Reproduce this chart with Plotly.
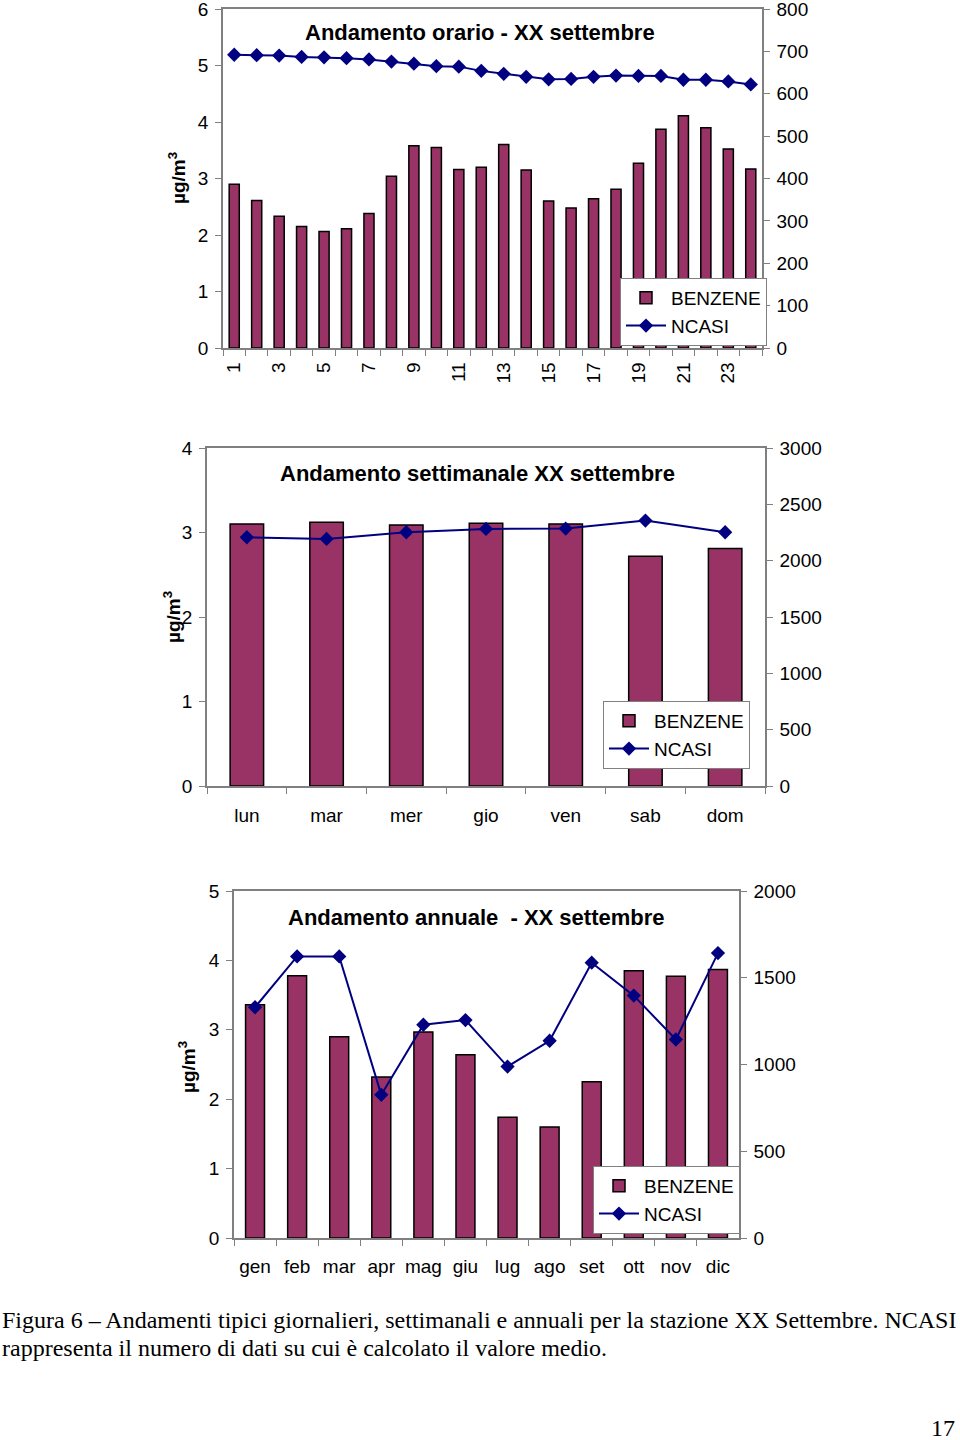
import plotly.graph_objects as go

# ---------------- data ----------------
hours = [str(h) for h in range(1, 25)]
hour_labels = [h if int(h) % 2 == 1 else "" for h in hours]
benz_hour = [2.90, 2.61, 2.33, 2.15, 2.06, 2.11, 2.38, 3.04, 3.58, 3.55, 3.16, 3.20,
             3.60, 3.15, 2.60, 2.48, 2.64, 2.81, 3.27, 3.87, 4.11, 3.90, 3.52, 3.17]
ncasi_hour = [692, 691, 690, 687, 686, 684, 681, 676, 671, 665, 664, 654,
              647, 640, 634, 635, 640, 643, 642, 642, 633, 633, 629, 622]

days = ["lun", "mar", "mer", "gio", "ven", "sab", "dom"]
benz_week = [3.10, 3.12, 3.09, 3.11, 3.10, 2.72, 2.81]
ncasi_week = [2208, 2193, 2252, 2282, 2285, 2356, 2252]

months = ["gen", "feb", "mar", "apr", "mag", "giu", "lug", "ago", "set", "ott", "nov", "dic"]
benz_year = [3.36, 3.78, 2.90, 2.32, 2.97, 2.64, 1.74, 1.60, 2.25, 3.85, 3.77, 3.87]
ncasi_year = [1330, 1623, 1623, 825, 1229, 1256, 988, 1137, 1587, 1397, 1144, 1642]

titles = ["Andamento orario - XX settembre",
          "Andamento settimanale XX settembre",
          "Andamento annuale  - XX settembre"]

# ---------------- style ----------------
W, H = 960, 1440
BAR = "#993366"
LINE = "#000080"
AX = "#808080"
FONT = "Liberation Sans"
FS = 19

def px_x(x):
    return x / W

def px_y(y):
    return 1 - y / H

fig = go.Figure()

charts = [
    dict(cats=hours, labels=hour_labels, b=benz_hour, n=ncasi_hour, ymax=6, dtick=1,
         y2max=800, y2dtick=100, x0=223, x1=762, top=9, bot=348, bw=0.45, angle=-90,
         xstand=5, legend=(620, 278), title=(480, 32), ytitle=(177, 178)),
    dict(cats=days, labels=days, b=benz_week, n=ncasi_week, ymax=4, dtick=1,
         y2max=3000, y2dtick=500, x0=207, x1=765, top=448, bot=786, bw=0.42, angle=0,
         xstand=11, legend=(603, 701), title=(477, 473), ytitle=(172, 617)),
    dict(cats=months, labels=months, b=benz_year, n=ncasi_year, ymax=5, dtick=1,
         y2max=2000, y2dtick=500, x0=234, x1=739, top=891, bot=1238, bw=0.45, angle=0,
         xstand=10, legend=(593, 1166), title=(476, 918), ytitle=(187, 1067)),
]

layout = dict(width=W, height=H, margin=dict(l=0, r=0, t=0, b=0, autoexpand=False),
              paper_bgcolor="white", plot_bgcolor="white",
              font=dict(family=FONT, size=FS, color="black"),
              showlegend=True, annotations=[])

for i, c in enumerate(charts):
    k = i + 1
    xa = "x" if k == 1 else f"x{k}"
    ya = f"y{2*k-1}" if k > 1 else "y"
    yb = f"y{2*k}"
    lg = "legend" if k == 1 else f"legend{k}"
    fig.add_trace(go.Bar(x=c["cats"], y=c["b"], name="BENZENE", xaxis=xa, yaxis=ya,
                         width=c["bw"], marker=dict(color=BAR, line=dict(color="black", width=1.5)),
                         legend=lg))
    fig.add_trace(go.Scatter(x=c["cats"], y=c["n"], name="NCASI", xaxis=xa, yaxis=yb,
                             mode="lines+markers", line=dict(color=LINE, width=2),
                             marker=dict(symbol="diamond", size=11, color=LINE),
                             legend=lg))
    xname = "xaxis" if k == 1 else f"xaxis{k}"
    yname1 = "yaxis" if k == 1 else f"yaxis{2*k-1}"
    yname2 = f"yaxis{2*k}"
    n = len(c["cats"])
    layout[xname] = dict(domain=[px_x(c["x0"]), px_x(c["x1"])], anchor=ya,
                         type="category", range=[-0.5, n - 0.5],
                         tickmode="array", tickvals=c["cats"], ticktext=c["labels"],
                         tickson="boundaries", ticks="outside", ticklen=6, tickcolor=AX,
                         showline=True, linecolor=AX, linewidth=1.5, mirror=True,
                         tickangle=c["angle"], showgrid=False, ticklabelstandoff=c["xstand"],
                         tickfont=dict(size=FS), automargin=False, ticklabeloverflow="allow")
    layout[yname1] = dict(domain=[px_y(c["bot"]), px_y(c["top"])], anchor=xa,
                          range=[0, c["ymax"]], dtick=c["dtick"], ticks="outside", ticklen=6,
                          tickcolor=AX, showline=True, linecolor=AX, linewidth=1.5,
                          showgrid=False, zeroline=False, ticklabelstandoff=3, automargin=False,
                          ticklabeloverflow="allow")
    layout[yname2] = dict(overlaying=ya, side="right", anchor=xa,
                          range=[0, c["y2max"]], dtick=c["y2dtick"], ticks="outside", ticklen=6,
                          tickcolor=AX, showline=True, linecolor=AX, linewidth=1.5,
                          showgrid=False, zeroline=False, ticklabelstandoff=3, automargin=False,
                          ticklabeloverflow="allow")
    lx0, ly0 = c["legend"]
    layout[lg] = dict(x=px_x(lx0), y=px_y(ly0), xanchor="left", yanchor="top",
                      bgcolor="white", bordercolor=AX, borderwidth=1,
                      font=dict(size=FS, family=FONT), tracegroupgap=0,
                      itemwidth=40, traceorder="normal")
    ttx, tty = c["title"]
    layout["annotations"].append(dict(text="<b>" + titles[i] + "</b>", x=px_x(ttx),
                                      y=px_y(tty), xref="paper", yref="paper",
                                      showarrow=False, font=dict(size=22, family=FONT),
                                      xanchor="center", yanchor="middle"))
    tx, ty = c["ytitle"]
    layout["annotations"].append(dict(text="<b>µg/m<sup>3</sup></b>", x=px_x(tx), y=px_y(ty),
                                      xref="paper", yref="paper", showarrow=False, textangle=-90,
                                      font=dict(size=19, family=FONT),
                                      xanchor="center", yanchor="middle"))

caption1 = "Figura 6 – Andamenti tipici giornalieri, settimanali e annuali per la stazione XX Settembre. NCASI"
caption2 = "rappresenta il numero di dati su cui è calcolato il valore medio."
for txt, yy in [(caption1, 1320), (caption2, 1348)]:
    layout["annotations"].append(dict(text=txt, x=px_x(0), y=px_y(yy), xref="paper", yref="paper",
                                      showarrow=False, xanchor="left", yanchor="middle",
                                      font=dict(family="Liberation Serif", size=24, color="black")))
layout["annotations"].append(dict(text="17", x=px_x(957), y=px_y(1428), xref="paper", yref="paper",
                                  showarrow=False, xanchor="right", yanchor="middle",
                                  font=dict(family="Liberation Serif", size=24, color="black")))

fig.update_layout(**layout)
fig.write_html("out.html", config={"displayModeBar": False},
               post_script="document.body.style.margin='0';document.body.style.overflow='hidden';")
